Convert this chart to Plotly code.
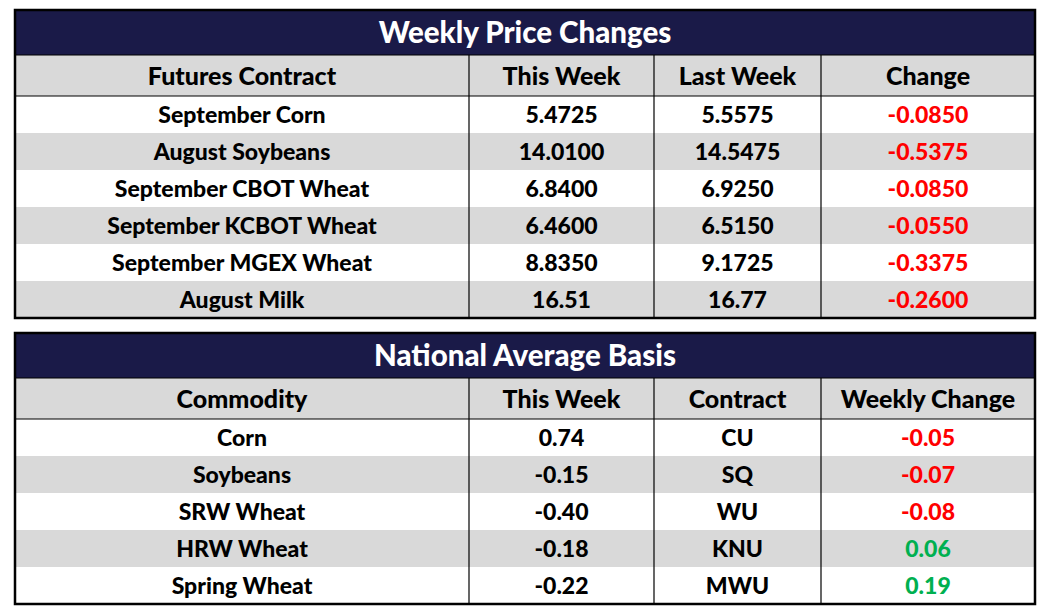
import plotly.graph_objects as go

# Weekly price changes
futures = ["September Corn", "August Soybeans", "September CBOT Wheat",
           "September KCBOT Wheat", "September MGEX Wheat", "August Milk"]
this_week = ["5.4725", "14.0100", "6.8400", "6.4600", "8.8350", "16.51"]
last_week = ["5.5575", "14.5475", "6.9250", "6.5150", "9.1725", "16.77"]
change = [-0.0850, -0.5375, -0.0850, -0.0550, -0.3375, -0.2600]

# National average basis
commodities = ["Corn", "Soybeans", "SRW Wheat", "HRW Wheat", "Spring Wheat"]
basis = ["0.74", "-0.15", "-0.40", "-0.18", "-0.22"]
contracts = ["CU", "SQ", "WU", "KNU", "MWU"]
basis_change = [-0.05, -0.07, -0.08, 0.06, 0.19]

headers1 = ["Futures Contract", "This Week", "Last Week", "Change"]
headers2 = ["Commodity", "This Week", "Contract", "Weekly Change"]

W, H = 1050, 615
NAVY = "#1a1a48"
GRAY = "#d9d9d9"
RED = "#ff0000"
GREEN = "#00b050"
FONT = "Lato"
WEIGHT = 900
col_w = [454, 185, 167, 214]
x0, x1 = 15, 1035
title_h, head_h, row_h = 45, 41, 37
pad = 4
nudge = 3  # text baseline tweak

fig = go.Figure()
shapes = []
layout_axes = {}


def add_block(k, top, title, headers, columns, change_vals, change_fmt):
    n = len(columns[0])
    xa, ya = ("x", "y") if k == 1 else ("x%d" % k, "y%d" % k)
    total_w = sum(col_w)
    block_h = title_h + head_h + n * row_h

    # row geometry (block units = pixels)
    heights = [title_h, head_h] + [row_h] * n
    centers, edge = [], 0
    for h in heights:
        centers.append(edge + h / 2)
        edge += h
    fills = [NAVY, GRAY] + ["white" if i % 2 == 0 else GRAY for i in range(n)]

    fig.add_trace(go.Bar(
        x=[total_w] * len(heights), y=centers, base=0, width=heights,
        orientation="h", marker=dict(color=fills, line=dict(width=0)),
        xaxis=xa, yaxis=ya, hoverinfo="skip", showlegend=False,
    ))

    # column centres
    col_c, e = [], 0
    for w in col_w:
        col_c.append(e + w / 2)
        e += w

    # title text
    fig.add_trace(go.Scatter(
        x=[total_w / 2], y=[centers[0] + nudge], mode="text", text=[title],
        textfont=dict(family=FONT, size=29.5, color="white", weight=WEIGHT),
        xaxis=xa, yaxis=ya, hoverinfo="skip", showlegend=False,
    ))
    # header text
    fig.add_trace(go.Scatter(
        x=col_c, y=[centers[1] + nudge] * 4, mode="text", text=headers,
        textfont=dict(family=FONT, size=25, color="black", weight=WEIGHT),
        xaxis=xa, yaxis=ya, hoverinfo="skip", showlegend=False,
    ))
    # body text
    all_cols = columns + [[change_fmt % v for v in change_vals]]
    colours = [RED if v < 0 else GREEN for v in change_vals]
    for j, col in enumerate(all_cols):
        fig.add_trace(go.Scatter(
            x=[col_c[j]] * n, y=[c + nudge for c in centers[2:]], mode="text", text=col,
            textfont=dict(family=FONT, size=23, weight=WEIGHT,
                          color=colours if j == 3 else "black"),
            xaxis=xa, yaxis=ya, hoverinfo="skip", showlegend=False,
        ))

    # lines
    e = 0
    for w in col_w[:-1]:
        e += w
        shapes.append(dict(type="line", xref=xa, yref=ya, x0=e, x1=e,
                           y0=title_h, y1=block_h, line=dict(color="black", width=1.2)))
    for yy in (title_h, title_h + head_h):
        shapes.append(dict(type="line", xref=xa, yref=ya, x0=0, x1=total_w,
                           y0=yy, y1=yy, line=dict(color="black", width=1.2)))
    shapes.append(dict(type="rect", xref=xa, yref=ya, x0=0, x1=total_w,
                       y0=0, y1=block_h, line=dict(color="black", width=2.5)))

    ax_name = "xaxis" if k == 1 else "xaxis%d" % k
    ay_name = "yaxis" if k == 1 else "yaxis%d" % k
    layout_axes[ax_name] = dict(domain=[(x0 - pad) / W, (x1 + pad) / W],
                                range=[-pad, total_w + pad], visible=False,
                                anchor=ya, fixedrange=True)
    layout_axes[ay_name] = dict(domain=[1 - (top + block_h + pad) / H, 1 - (top - pad) / H],
                                range=[block_h + pad, -pad], visible=False,
                                anchor=xa, fixedrange=True)


add_block(1, 10, "Weekly Price Changes", headers1,
          [futures, this_week, last_week], change, "%.4f")
add_block(2, 333, "National Average Basis", headers2,
          [commodities, basis, contracts], basis_change, "%.2f")

fig.update_layout(width=W, height=H, margin=dict(l=0, r=0, t=0, b=0),
                  paper_bgcolor="white", plot_bgcolor="rgba(0,0,0,0)",
                  shapes=shapes, barmode="overlay", **layout_axes)

fig.write_html("out.html", config={"displayModeBar": False},
               post_script="document.body.style.margin='0';")
